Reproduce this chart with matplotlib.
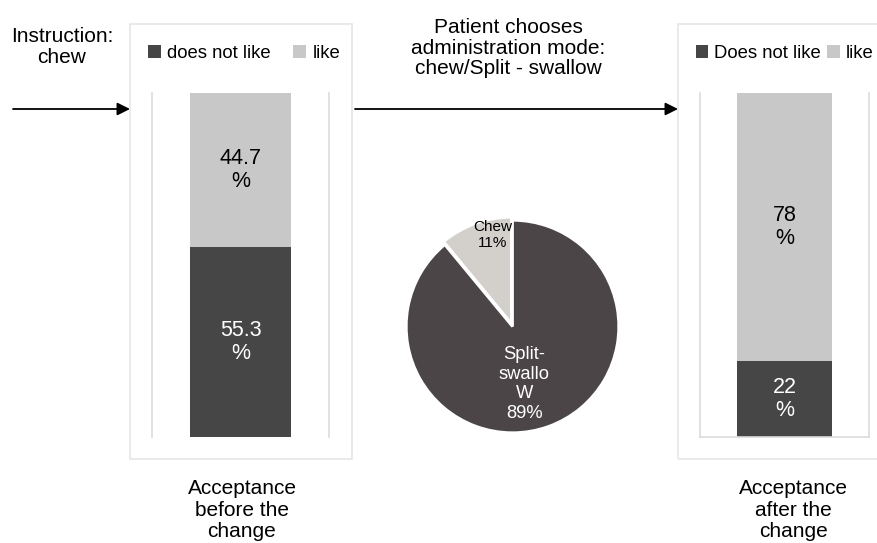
import matplotlib
matplotlib.use("Agg")
import matplotlib.pyplot as plt
from matplotlib.patches import Rectangle, FancyArrowPatch

plt.rcParams['font.family'] = ['Liberation Sans', 'DejaVu Sans']

# data
before_labels = ['does not like', 'like']
before_vals = [55.3, 44.7]
after_labels = ['Does not like', 'like']
after_vals = [22, 78]
pie_labels = ['Chew', 'Split-\nswallo\nW']
pie_vals = [11, 89]

dark = '#464646'
light = '#c8c8c8'
W, H = 877, 543

fig = plt.figure(figsize=(W / 100, H / 100), dpi=100)


def fx(x):
    return x / W


def fy(y):
    return 1 - y / H


def px_axes(x0, y0, x1, y1):
    return fig.add_axes([fx(x0), fy(y1), (x1 - x0) / W, (y1 - y0) / H])


# outer boxes
for x0, x1 in [(130, 352), (678, 900)]:
    fig.patches.append(Rectangle((fx(x0), fy(459)), (x1 - x0) / W, (459 - 24) / H,
                                 transform=fig.transFigure, fill=False,
                                 edgecolor='#e8e8e8', lw=1.3))


def stacked(ax, labels, vals, bottom_spine):
    b = 0
    cols = [dark, light]
    tcols = ['white', 'black']
    handles = []
    for lab, v, c, tc in zip(labels, vals, cols, tcols):
        h = ax.bar(0, v, width=0.6, bottom=b, color=c, label=lab)
        handles.append(h)
        ax.text(0, b + v / 2, f'{v:g}\n%', ha='center', va='center', color=tc,
                fontsize=15.5, linespacing=1.15)
        b += v
    ax.set_xlim(-0.53, 0.53)
    ax.set_ylim(0, 100)
    ax.set_xticks([])
    ax.set_yticks([])
    ax.spines['top'].set_visible(False)
    ax.spines['bottom'].set_visible(bottom_spine)
    for s in ax.spines.values():
        s.set_color('#dcdcdc')
        s.set_linewidth(1.2)
    return handles


ax1 = px_axes(152, 93, 329, 437)
h1 = stacked(ax1, before_labels, before_vals, False)
ax1.legend(handles=h1, ncol=2, loc='center', bbox_to_anchor=(0.52, 1.115),
           frameon=False, fontsize=13.3, handlelength=0.7, handleheight=0.7,
           handletextpad=0.35, columnspacing=1.2, borderaxespad=0, borderpad=0)

ax2 = px_axes(700, 93, 869, 437)
h2 = stacked(ax2, after_labels, after_vals, True)
ax2.legend(handles=h2, ncol=2, loc='center', bbox_to_anchor=(0.5, 1.115),
           frameon=False, fontsize=13.3, handlelength=0.7, handleheight=0.7,
           handletextpad=0.3, columnspacing=0.35, borderaxespad=0, borderpad=0)

# pie
axp = px_axes(402, 216, 623, 437)
axp.pie(pie_vals, startangle=90, counterclock=True,
        colors=['#d3d0cc', '#4b4547'], explode=[0.03, 0],
        wedgeprops=dict(edgecolor='white', linewidth=2))
axp.set_xlim(-1.04, 1.04)
axp.set_ylim(-1.04, 1.04)
axp.set_aspect('equal')
axp.axis('off')
axp.text(-0.19, 0.86, f'{pie_labels[0]}\n{pie_vals[0]}%', ha='center', va='center',
         fontsize=11, color='black', linespacing=1.15)
axp.text(0.11, -0.54, f'{pie_labels[1]}\n{pie_vals[1]}%', ha='center', va='center',
         fontsize=13.2, color='white', linespacing=1.2)

# arrows
for x0, x1 in [(13, 130), (355, 678)]:
    fig.add_artist(FancyArrowPatch(
        (fx(x0), fy(109)), (fx(x1), fy(109)), transform=fig.transFigure,
        arrowstyle='-|>', mutation_scale=19, color='black', lw=1.3,
        shrinkA=0, shrinkB=0))

fig.text(fx(62), fy(47), 'Instruction:\nchew', ha='center', va='center',
         fontsize=15, linespacing=1.1)
fig.text(fx(508), fy(48), 'Patient chooses\nadministration mode:\nchew/Split - swallow',
         ha='center', va='center', fontsize=15, linespacing=1.1)
fig.text(fx(242), fy(510), 'Acceptance\nbefore the\nchange', ha='center', va='center',
         fontsize=15, linespacing=1.15)
fig.text(fx(793), fy(510), 'Acceptance\nafter the\nchange', ha='center', va='center',
         fontsize=15, linespacing=1.15)

fig.savefig('out.png', dpi=100)
